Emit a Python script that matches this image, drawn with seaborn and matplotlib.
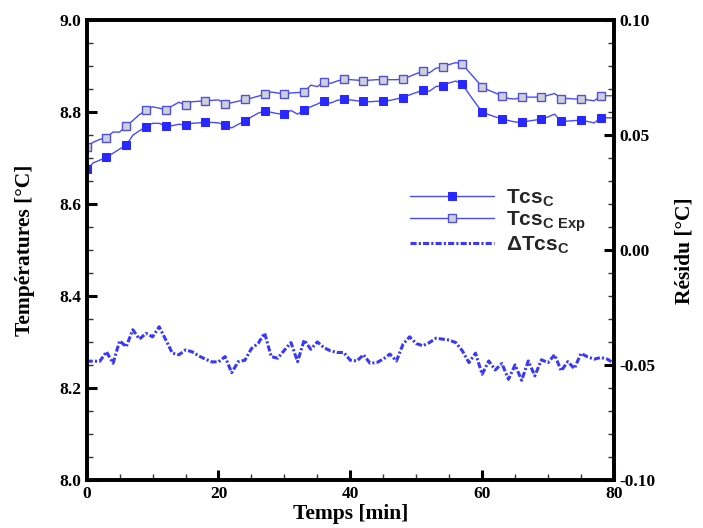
import numpy as np
import pandas as pd
import matplotlib
matplotlib.use('Agg')
import matplotlib.pyplot as plt
from matplotlib.ticker import MultipleLocator, FormatStrFormatter
import seaborn as sns

# Time axis (min), one reading per minute
temps = list(range(0, 81))

# Tcs_C (computed)
tcs_c = [8.676, 8.690, 8.696, 8.702, 8.711, 8.720, 8.729, 8.750, 8.760, 8.768,
         8.776, 8.776, 8.770, 8.771, 8.774, 8.772, 8.776, 8.777, 8.778, 8.778,
         8.777, 8.772, 8.766, 8.774, 8.780, 8.790, 8.798, 8.803, 8.800, 8.797,
         8.796, 8.804, 8.796, 8.805, 8.812, 8.818, 8.825, 8.820, 8.826, 8.828,
         8.827, 8.825, 8.824, 8.823, 8.824, 8.824, 8.826, 8.829, 8.832, 8.838,
         8.843, 8.848, 8.846, 8.856, 8.858, 8.864, 8.868, 8.861, 8.840, 8.820,
         8.801, 8.795, 8.790, 8.786, 8.782, 8.779, 8.778, 8.781, 8.783, 8.785,
         8.790, 8.796, 8.780, 8.781, 8.782, 8.783, 8.780, 8.777, 8.788, 8.788,
         8.788]

# Tcs_C Exp (measured)
tcs_c_exp = [8.724, 8.735, 8.741, 8.745, 8.757, 8.757, 8.770, 8.782, 8.795, 8.804,
             8.812, 8.809, 8.806, 8.814, 8.822, 8.815, 8.823, 8.824, 8.825, 8.826,
             8.827, 8.818, 8.821, 8.824, 8.828, 8.831, 8.835, 8.839, 8.844, 8.842,
             8.840, 8.842, 8.843, 8.844, 8.859, 8.856, 8.866, 8.863, 8.868, 8.872,
             8.871, 8.870, 8.869, 8.870, 8.871, 8.871, 8.871, 8.871, 8.872, 8.878,
             8.884, 8.889, 8.886, 8.896, 8.898, 8.904, 8.908, 8.905, 8.888, 8.872,
             8.855, 8.848, 8.842, 8.836, 8.830, 8.829, 8.833, 8.833, 8.833, 8.833,
             8.837, 8.841, 8.830, 8.830, 8.829, 8.829, 8.827, 8.825, 8.836, 8.836,
             8.836]

# Residual delta Tcs_C (right axis)
delta_tcs = [-0.0483, -0.0483, -0.0483, -0.0442, -0.0492, -0.0394, -0.0420, -0.0346, -0.0387, -0.0362,
             -0.0377, -0.0333, -0.0390, -0.0448, -0.0455, -0.0434, -0.0442, -0.0460, -0.0474, -0.0486,
             -0.0486, -0.0463, -0.0533, -0.0485, -0.0479, -0.0428, -0.0406, -0.0361, -0.0463, -0.0470,
             -0.0435, -0.0402, -0.0485, -0.0391, -0.0431, -0.0399, -0.0424, -0.0438, -0.0445, -0.0445,
             -0.0479, -0.0482, -0.0455, -0.0492, -0.0489, -0.0474, -0.0452, -0.0482, -0.0409, -0.0377,
             -0.0406, -0.0416, -0.0402, -0.0383, -0.0387, -0.0391, -0.0402, -0.0438, -0.0489, -0.0448,
             -0.0540, -0.0482, -0.0521, -0.0493, -0.0562, -0.0499, -0.0566, -0.0482, -0.0547, -0.0477,
             -0.0489, -0.0455, -0.0525, -0.0485, -0.0515, -0.0449, -0.0464, -0.0474, -0.0467, -0.0474,
             -0.0493]

df = pd.DataFrame({'t': temps, 'tcs': tcs_c, 'exp': tcs_c_exp, 'delta': delta_tcs})

sns.set_style('ticks')
plt.rcParams['font.family'] = ['Liberation Serif', 'DejaVu Serif']
plt.rcParams['font.weight'] = 'bold'
plt.rcParams['mathtext.fontset'] = 'custom'
plt.rcParams['mathtext.bf'] = 'Liberation Sans:bold'
plt.rcParams['mathtext.rm'] = 'Liberation Sans:bold'

line_col = '#4a4aff'
mark_col = '#2828ff'

fig = plt.figure(figsize=(7.03, 5.28), dpi=100)
ax = fig.add_axes([0.1233, 0.0909, 0.750, 0.8705])
ax2 = ax.twinx()

sns.lineplot(data=df, x='t', y='tcs', ax=ax, color=line_col, lw=1.0,
             marker='s', markersize=5.5, markerfacecolor=mark_col,
             markeredgecolor=mark_col, markevery=3)
sns.lineplot(data=df, x='t', y='exp', ax=ax, color=line_col, lw=1.0,
             marker='s', markersize=5.5, markerfacecolor='#d0d0d8',
             markeredgecolor='#5050e0', markeredgewidth=1.0, markevery=3)
sns.lineplot(data=df, x='t', y='delta', ax=ax2, color='#3838ff', lw=2.2)
res_line = ax2.lines[-1]
res_line.set_dashes((2.0, 0.7, 0.7, 0.7))

ax.set_xlim(0, 80)
ax.set_ylim(8.0, 9.0)
ax2.set_ylim(-0.10, 0.10)

ax.xaxis.set_major_locator(MultipleLocator(20))
ax.xaxis.set_minor_locator(MultipleLocator(5))
ax.yaxis.set_major_locator(MultipleLocator(0.2))
ax.yaxis.set_minor_locator(MultipleLocator(0.05))
ax2.yaxis.set_major_locator(MultipleLocator(0.05))
ax2.yaxis.set_minor_locator(MultipleLocator(0.01))
ax.xaxis.set_major_formatter(FormatStrFormatter('%d'))
ax.yaxis.set_major_formatter(FormatStrFormatter('%.1f'))
ax2.yaxis.set_major_formatter(FormatStrFormatter('%.2f'))

for a in (ax, ax2):
    a.tick_params(which='major', direction='in', length=7, width=2.2,
                  labelsize=12.5, pad=4, color='black', labelcolor='black')
    a.tick_params(which='minor', direction='in', length=4, width=1.0, color='#333333')
    for s in a.spines.values():
        s.set_linewidth(2.6)
        s.set_color('black')
        s.set_visible(True)
ax.tick_params(axis='x', which='both', top=False)
ax.tick_params(axis='y', which='both', right=False)
ax2.tick_params(axis='y', which='both', left=False)

ax.set_xlabel('Temps [min]', fontsize=15.5, fontweight='bold', color='black')
ax.set_ylabel('Températures [°C]', fontsize=15.5, fontweight='bold', color='black')
ax2.set_ylabel('Résidu [°C]', fontsize=15.5, fontweight='bold', color='black')
ax.xaxis.set_label_coords(0.5, -0.052)
ax.yaxis.set_label_coords(-0.098, 0.5)
ax2.yaxis.set_label_coords(1.115, 0.5)

handles = [ax.lines[0], ax.lines[1], res_line]
labels = [r'Tcs$_{\mathbf{C}}$', r'Tcs$_{\mathbf{C\ Exp}}$', r'ΔTcs$_{\mathbf{C}}$']
leg = ax2.legend(handles, labels, loc='upper left', bbox_to_anchor=(0.578, 0.677),
                 frameon=False, handlelength=4.0, numpoints=1,
                 labelspacing=0.0, handletextpad=0.6,
                 prop={'family': 'Liberation Sans', 'weight': 'bold', 'size': 15})

fig.savefig('out.png', dpi=100)
